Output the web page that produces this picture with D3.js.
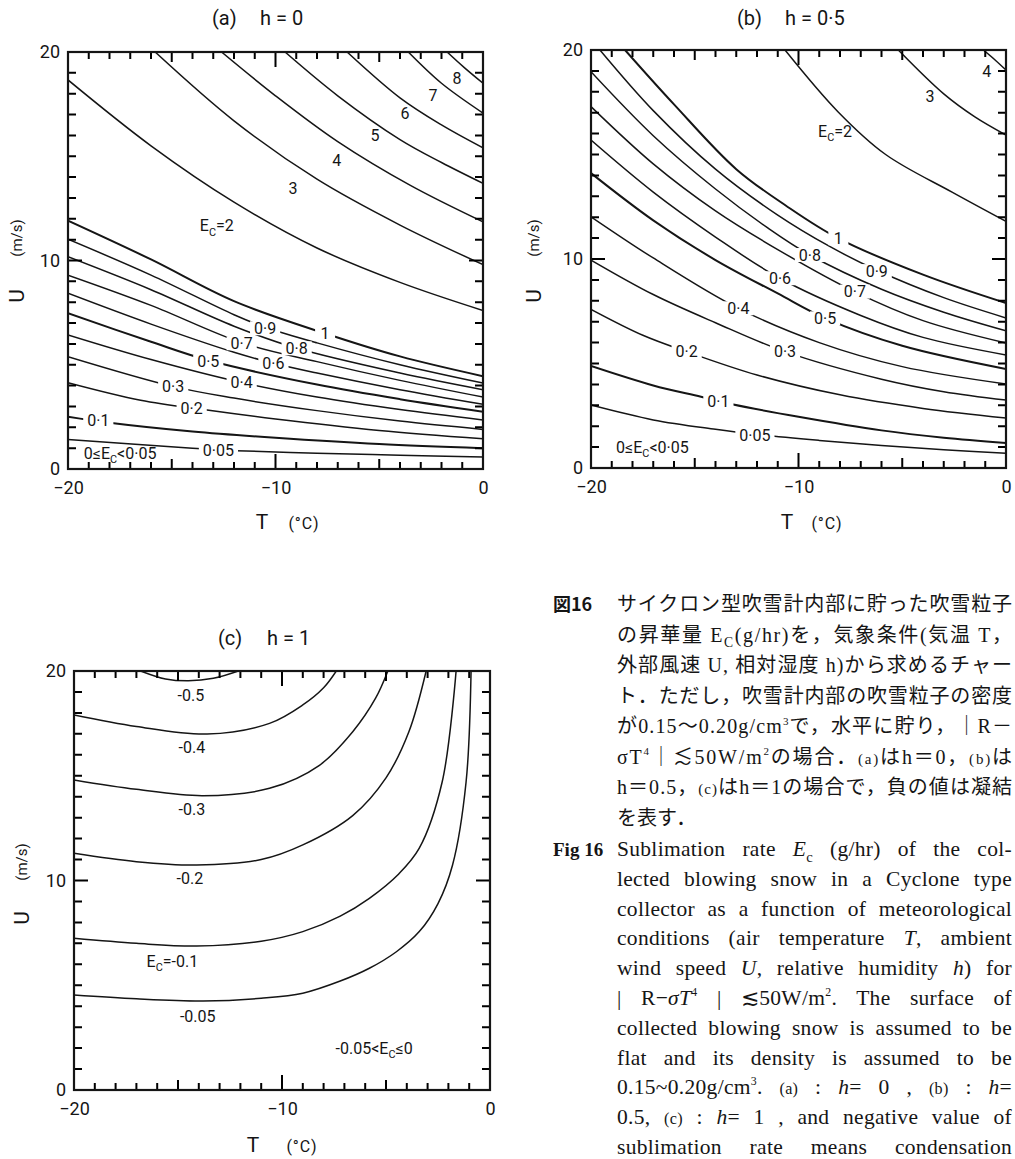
<!DOCTYPE html>
<html>
<head>
<meta charset="utf-8">
<script src="https://cdn.jsdelivr.net/npm/d3@7"></script>
<style>
  html, body { margin: 0; padding: 0; background: #fff; }
  svg { display: block; }
  text { fill: #151515; }
</style>
</head>
<body>
<svg id="fig" width="1015" height="1159"></svg>
<script>
// ---------------- data ----------------
// axis tick marks (every 1 deg C / 1 m/s) and labelled ticks
const tTicks = [-20,-19,-18,-17,-16,-15,-14,-13,-12,-11,-10,-9,-8,-7,-6,-5,-4,-3,-2,-1,0];
const uTicks = [0,1,2,3,4,5,6,7,8,9,10,11,12,13,14,15,16,17,18,19,20];
const tLabels = [-20, -10, 0];
const uLabels = [0, 10, 20];

// (a) h = 0 : contour lines of Ec, points are [T (deg C), U (m/s)]
const curvesA = [
  {level: 8,    label: [-1.25, 18.75], pts: [[-1.73,20],[-0.9,19.25],[0,18.5]]},
  {level: 7,    label: [-2.41, 17.94], pts: [[-3.6,20],[-2,18.5],[0,17.07]]},
  {level: 6,    label: [-3.76, 17.07], pts: [[-6.55,20],[-4,17.8],[-2,16.5],[0,15.4]]},
  {level: 5,    label: [-5.2, 16.02],  pts: [[-9.54,20],[-7,17.9],[-4,15.8],[-2,14.7],[0,13.7]]},
  {level: 4,    label: [-7.05, 14.82], pts: [[-12.6,20],[-10,17.9],[-7,15.7],[-3.5,13.6],[0,11.85]]},
  {level: 3,    label: [-9.16, 13.48], pts: [[-15.8,20],[-12,16.7],[-8,13.9],[-4,11.7],[0,9.8]]},
  {level: 2,    label: [-12.83, 11.68], pts: [[-20,18.66],[-16,15.5],[-12,12.8],[-8,10.6],[-4,8.95],[0,7.6]]},
  {level: 1,    label: [-7.61, 6.51],  pts: [[-20,11.91],[-16,10.05],[-12,8.05],[-7.6,6.5],[-4,5.4],[0,4.45]]},
  {level: 0.9,  label: [-10.5, 6.75],  pts: [[-20,11.02],[-16,9.3],[-12,7.4],[-10.5,6.8],[-8,6.05],[-4,5.0],[0,4.12]]},
  {level: 0.8,  label: [-8.98, 5.79],  pts: [[-20,10.18],[-16,8.6],[-12,6.85],[-9,5.8],[-4,4.6],[0,3.8]]},
  {level: 0.7,  label: [-11.63, 6.03], pts: [[-20,9.3],[-16,7.85],[-11.6,6.05],[-8,5.15],[-4,4.25],[0,3.45]]},
  {level: 0.6,  label: [-10.1, 5.07],  pts: [[-20,8.43],[-16,6.95],[-12,5.6],[-10.1,5.07],[-8,4.6],[-4,3.8],[0,3.1]]},
  {level: 0.5,  label: [-13.24, 5.15], pts: [[-20,7.47],[-16,6.1],[-13.2,5.2],[-8,4.05],[-4,3.35],[0,2.75]]},
  {level: 0.4,  label: [-11.63, 4.14], pts: [[-20,6.43],[-16,5.25],[-11.6,4.14],[-8,3.45],[-4,2.85],[0,2.35]]},
  {level: 0.3,  label: [-14.93, 3.95], pts: [[-20,5.39],[-14.9,3.95],[-12,3.4],[-8,2.8],[-4,2.3],[0,1.9]]},
  {level: 0.2,  label: [-14.04, 2.91], pts: [[-20,4.14],[-16.5,3.3],[-13.3,2.83],[-10,2.4],[-5,1.85],[0,1.45]]},
  {level: 0.1,  label: [-18.54, 2.33], pts: [[-20,2.51],[-18,2.22],[-14,1.8],[-10,1.5],[-5,1.2],[0,1.0]]},
  {level: 0.05, label: [-12.75, 0.92], pts: [[-20,1.42],[-14,0.99],[-11.9,0.88],[-8,0.76],[-4,0.66],[0,0.57]]}
];

// (b) h = 0.5
const curvesB = [
  {level: 4,    label: [-0.93, 18.96], pts: [[-1.09,20],[-0.5,19.5],[0,19.04]]},
  {level: 3,    label: [-3.66, 17.77], pts: [[-5.19,20],[-3,17.9],[-1.5,16.8],[0,15.93]]},
  {level: 2,    label: [-8.24, 16.12], pts: [[-10.65,20],[-8.1,17.05],[-5.8,15.0],[-2.6,13.2],[0,11.8]]},
  {level: 1,    label: [-8.08, 10.99], pts: [[-18.36,20],[-16,17.4],[-13,14.3],[-10.6,12.55],[-8.1,11.0],[-4,9.25],[0,7.89]]},
  {level: 0.9,  label: [-6.23, 9.42],  pts: [[-19.57,20],[-17,17.1],[-14,14.3],[-11,12.1],[-8.5,10.6],[-6.2,9.45],[-3,8.15],[0,7.18]]},
  {level: 0.8,  label: [-9.45, 10.19], pts: [[-20,18.96],[-17,15.9],[-14,13.35],[-11.5,11.5],[-9.45,10.19],[-6,8.55],[-3,7.45],[0,6.56]]},
  {level: 0.7,  label: [-7.28, 8.44],  pts: [[-20,17.29],[-17,14.55],[-14,12.3],[-11,10.45],[-7.3,8.44],[-4,7.05],[0,5.98]]},
  {level: 0.6,  label: [-10.89, 9.08], pts: [[-20,15.69],[-17,13.2],[-14,11.05],[-10.9,9.08],[-7,7.3],[-4,6.25],[0,5.41]]},
  {level: 0.5,  label: [-8.72, 7.16],  pts: [[-20,14.11],[-17,11.85],[-14,9.95],[-11,8.35],[-8.7,7.16],[-5,5.85],[0,4.74]]},
  {level: 0.4,  label: [-12.9, 7.64],  pts: [[-20,12.02],[-17,10.05],[-12.9,7.64],[-9,6.0],[-5,4.85],[0,4.02]]},
  {level: 0.3,  label: [-10.65, 5.57], pts: [[-20,9.95],[-17,8.3],[-14,6.95],[-10.65,5.57],[-6,4.25],[-3,3.65],[0,3.25]]},
  {level: 0.2,  label: [-15.39, 5.57], pts: [[-20,7.59],[-17.5,6.35],[-15.4,5.57],[-12,4.45],[-8,3.5],[-4,2.85],[0,2.39]]},
  {level: 0.1,  label: [-13.86, 3.2],  pts: [[-20,4.88],[-17,3.95],[-14.7,3.41],[-13.2,3.05],[-10,2.45],[-6,1.8],[-3,1.45],[0,1.2]]},
  {level: 0.05, label: [-12.1, 1.59],  pts: [[-20,3.01],[-17,2.3],[-14,1.85],[-12,1.6],[-9,1.32],[-6,1.08],[-3,0.87],[0,0.7]]}
];

// (c) h = 1 (negative values: condensation)
const curvesC = [
  {level: -0.5,  label: [-14.38, 18.85], pts: [[-16.8,20],[-15.6,19.62],[-14.5,19.53],[-13.3,19.65],[-12.1,20]]},
  {level: -0.4,  label: [-14.33, 16.37], pts: [[-20,17.9],[-17,17.35],[-13.6,16.99],[-10.6,17.5],[-9,18.38],[-8,19.2],[-7.39,20]]},
  {level: -0.3,  label: [-14.33, 13.41], pts: [[-20,14.8],[-17,14.35],[-13.8,14.05],[-10.6,14.4],[-8.2,15.5],[-6.6,17.1],[-5.5,18.7],[-4.91,20]]},
  {level: -0.2,  label: [-14.43, 10.1],  pts: [[-20,11.3],[-17,10.9],[-14.1,10.74],[-11,11.0],[-9,11.7],[-6.6,13.1],[-5,14.9],[-3.9,17.1],[-3.07,20]]},
  {level: -0.1,  label: [-15.27, 6.16],  pts: [[-20,7.24],[-17,7.0],[-14.1,6.87],[-11,7.1],[-9,7.56],[-7.2,8.3],[-5.8,9.15],[-4.4,10.3],[-3.4,11.54],[-2.3,14.7],[-1.63,20]]},
  {level: -0.05, label: [-14.05, 3.53],  pts: [[-20,4.53],[-17,4.35],[-13.8,4.25],[-11,4.38],[-9,4.62],[-7.2,5.2],[-5.8,5.81],[-4.5,6.6],[-3.4,7.56],[-2.5,8.9],[-1.8,10.74],[-1.15,14.7],[-0.91,20]]}
];

// labels for the region below the lowest contour: [text parts, T, U]
const regionA = [[["0≤E"],["C","sub"],["<0·05"]], -17.49, 0.77];
const regionB = [[["0≤E"],["C","sub"],["<0·05"]], -17.04, 1.0];
const regionC = [[["-0.05<E"],["C","sub"],["≤0"]], -5.57, 2.0];

// figure caption, Japanese then English
const captionJa = [
  [["サイクロン型吹雪計内部に貯った吹雪粒子"]],
  [["の昇華量 E"],["C","sub"],["(g/hr)を，気象条件(気温 T，"]],
  [["外部風速 U, 相対湿度 h)から求めるチャー"]],
  [["ト．ただし，吹雪計内部の吹雪粒子の密度"]],
  [["が0.15～0.20g/cm"],["3","sup"],["で，水平に貯り，｜R－"]],
  [["σT"],["4","sup"],["｜≲50W/m"],["2","sup"],["の場合．"],["(a)","sm"],["はh＝0，"],["(b)","sm"],["は"]],
  [["h＝0.5，"],["(c)","sm"],["はh＝1の場合で，負の値は凝結"]],
  [["を表す．"]]
];
const captionEn = [
  [["Sublimation rate "],["E","i"],["c","sub"],[" (g/hr) of the col-"]],
  [["lected blowing snow in a Cyclone type"]],
  [["collector as a function of meteorological"]],
  [["conditions (air temperature "],["T","i"],[", ambient"]],
  [["wind speed "],["U","i"],[", relative humidity "],["h","i"],[") for"]],
  [["| R−"],["σT","i"],["4","sup"],[" | ≲50W/m"],["2","sup"],[". The surface of"]],
  [["collected blowing snow is assumed to be"]],
  [["flat and its density is assumed to be"]],
  [["0.15~0.20g/cm"],["3","sup"],[". "],["(a)","sm"],[" : "],["h","i"],["= 0 , "],["(b)","sm"],[" : "],["h","i"],["="]],
  [["0.5, "],["(c)","sm"],[" : "],["h","i"],["= 1 , and negative value of"]],
  [["sublimation rate means condensation"]]
];

// ---------------- drawing ----------------
const svg = d3.select("#fig");
const INK = "#151515";
const CHART_FONT = "Roboto, 'Liberation Sans', Arial, sans-serif";

// write text parts (plain / sub / sup / small / italic) into a text element
function rich(textSel, parts, size) {
  let shift = 0;
  parts.forEach(([str, kind]) => {
    const ts = textSel.append("tspan").text(str);
    let target = 0, fs = size;
    if (kind === "sub") { target = size * 0.28; fs = size * 0.68; }
    if (kind === "sup") { target = -size * 0.42; fs = size * 0.55; }
    if (kind === "sm") { fs = size * 0.75; }
    if (kind === "i") ts.attr("font-style", "italic");
    ts.attr("font-size", fs);
    if (target !== shift) { ts.attr("dy", target - shift); shift = target; }
  });
}

const dotted = v => String(v).replace(".", "·");

function drawPanel(cfg) {
  const x = d3.scaleLinear().domain([-20, 0]).range([cfg.left, cfg.left + cfg.w]);
  const y = d3.scaleLinear().domain([0, 20]).range([cfg.top + cfg.h, cfg.top]);
  const g = svg.append("g").attr("font-family", CHART_FONT);

  const clipId = "clip-" + cfg.id;
  svg.append("defs").append("clipPath").attr("id", clipId).append("rect")
    .attr("x", x(-20)).attr("y", y(20)).attr("width", cfg.w).attr("height", cfg.h);

  const line = d3.line().x(d => x(d[0])).y(d => y(d[1])).curve(d3.curveCatmullRom.alpha(0.5));
  const thick = new Set([1, 0.5, 0.1]);

  g.append("g").attr("clip-path", `url(#${clipId})`)
    .selectAll("path").data(cfg.curves).join("path")
    .attr("d", d => line(d.pts))
    .attr("fill", "none").attr("stroke", INK)
    .attr("stroke-width", d => thick.has(d.level) ? 2.0 : 1.5);

  // contour labels (lines are broken where labels sit in (a) and (b))
  const lab = g.append("g");
  cfg.curves.forEach(c => {
    const px = x(c.label[0]), py = y(c.label[1]);
    const size = 16;
    let parts;
    if (cfg.id === "c") {
      parts = c.level === -0.1 ? [["E"], ["C", "sub"], ["=-0.1"]] : [["-" + String(Math.abs(c.level))]];
    } else {
      parts = c.level === 2 ? [["E"], ["C", "sub"], ["=2"]] : [[dotted(c.level)]];
    }
    const t = lab.append("text").attr("x", px).attr("y", py + size * 0.36)
      .attr("text-anchor", "middle").attr("font-size", size);
    rich(t, parts, size);
    if (cfg.id !== "c" && c.level <= 1) {
      const bb = t.node().getBBox();
      const w = Math.max(bb.width + 8, 20);
      lab.insert("rect", () => t.node())
        .attr("x", px - w / 2).attr("y", py - 7).attr("width", w).attr("height", 14)
        .attr("fill", "#fff");
    }
  });
  const reg = cfg.region;
  const rt = lab.append("text").attr("x", x(reg[1])).attr("y", y(reg[2]) + 16 * 0.36)
    .attr("text-anchor", "middle").attr("font-size", 16);
  rich(rt, reg[0], 16);

  // tick marks on all four sides, pointing inward
  const tLen = v => v === -10 ? 15 : (v === -15 || v === -5) ? 10 : 7;
  const uLen = v => v === 10 ? 14 : 8;
  const tickPath = d3.path();
  tTicks.forEach(v => {
    tickPath.moveTo(x(v), y(0)); tickPath.lineTo(x(v), y(0) - tLen(v));
    tickPath.moveTo(x(v), y(20)); tickPath.lineTo(x(v), y(20) + tLen(v));
  });
  uTicks.forEach(v => {
    tickPath.moveTo(x(-20), y(v)); tickPath.lineTo(x(-20) + uLen(v), y(v));
    tickPath.moveTo(x(0), y(v)); tickPath.lineTo(x(0) - uLen(v), y(v));
  });
  g.append("path").attr("d", tickPath.toString())
    .attr("fill", "none").attr("stroke", "#000").attr("stroke-width", 2);

  // tick labels
  const labStyle = s => {
    s.select(".domain").remove();
    s.attr("font-family", CHART_FONT).attr("font-size", 18);
    s.selectAll("text").attr("fill", INK);
  };
  g.append("g").attr("transform", `translate(0,${y(0)})`)
    .call(d3.axisBottom(x).tickValues(tLabels).tickSize(0).tickPadding(12))
    .call(labStyle);
  g.append("g").attr("transform", `translate(${x(-20)},0)`)
    .call(d3.axisLeft(y).tickValues(uLabels).tickSize(0).tickPadding(8))
    .call(labStyle);

  // frame
  g.append("rect").attr("x", x(-20)).attr("y", y(20)).attr("width", cfg.w).attr("height", cfg.h)
    .attr("fill", "none").attr("stroke", INK).attr("stroke-width", 2.2);

  // title
  g.append("text").attr("x", cfg.title[0]).attr("y", cfg.title[1])
    .attr("font-size", 20).text(cfg.title[2]);
  g.append("text").attr("x", cfg.title[3]).attr("y", cfg.title[1])
    .attr("font-size", 20).text(cfg.title[4]);

  // axis titles
  g.append("text").attr("x", cfg.tTitle[0]).attr("y", cfg.tTitle[2])
    .attr("text-anchor", "middle").attr("font-size", 21).text("T");
  g.append("text").attr("x", cfg.tTitle[1]).attr("y", cfg.tTitle[2])
    .attr("text-anchor", "middle").attr("font-size", 16).attr("letter-spacing", 1).text("(°C)");
  g.append("text").attr("transform", `translate(${cfg.uTitle[0]},${cfg.uTitle[1]}) rotate(-90)`)
    .attr("text-anchor", "middle").attr("dominant-baseline", "central").attr("font-size", 21).text("U");
  g.append("text").attr("transform", `translate(${cfg.uTitle[0]},${cfg.uTitle[2]}) rotate(-90)`)
    .attr("text-anchor", "middle").attr("dominant-baseline", "central").attr("font-size", 15).text("(m/s)");
}

drawPanel({id: "a", left: 68, top: 52, w: 415, h: 417, curves: curvesA, region: regionA,
  title: [212, 25, "(a)", 260, "h = 0"], tTitle: [262, 304, 529], uTitle: [17, 296, 238]});
drawPanel({id: "b", left: 591, top: 50, w: 415, h: 418, curves: curvesB, region: regionB,
  title: [737, 25, "(b)", 785, "h = 0·5"], tTitle: [787, 827, 529], uTitle: [534, 296, 238]});
drawPanel({id: "c", left: 74, top: 671, w: 416, h: 419, curves: curvesC, region: regionC,
  title: [218, 645, "(c)", 267, "h = 1"], tTitle: [253, 302, 1152], uTitle: [22, 918, 862]});

// ---------------- caption ----------------
const cap = svg.append("g");
const capLeft = 617, capWidth = 395;
cap.append("text").attr("x", 553).attr("y", 611)
  .attr("font-family", "'Noto Sans CJK JP', sans-serif").attr("font-weight", 700)
  .attr("font-size", 18).text("図16");
captionJa.forEach((parts, i) => {
  const t = cap.append("text").attr("x", capLeft).attr("y", 611 + i * 30.5)
    .attr("font-family", "'Liberation Serif', 'Noto Sans CJK JP', serif")
    .attr("font-size", 20).style("white-space", "pre");
  rich(t, parts, 20);
  if (i < captionJa.length - 1) t.attr("textLength", capWidth).attr("lengthAdjust", "spacing");
});
cap.append("text").attr("x", 553).attr("y", 856)
  .attr("font-family", "'Liberation Serif', serif").attr("font-weight", 700)
  .attr("font-size", 19).text("Fig 16");
// English lines are justified by widening the word gaps
captionEn.forEach((parts, i) => {
  const t = cap.append("text").attr("x", capLeft).attr("y", 856 + i * 29.8)
    .attr("font-family", "'Liberation Serif', 'DejaVu Serif', serif")
    .attr("font-size", 21.5).attr("letter-spacing", 0.3).style("white-space", "pre");
  rich(t, parts, 21.5);
  const natural = t.node().getComputedTextLength();
  const gaps = parts.map(p => p[0]).join("").split(" ").length - 1;
  if (gaps > 0 && natural < capWidth) {
    t.style("word-spacing", ((capWidth - natural) / gaps) + "px");
  }
});
</script>
</body>
</html>
